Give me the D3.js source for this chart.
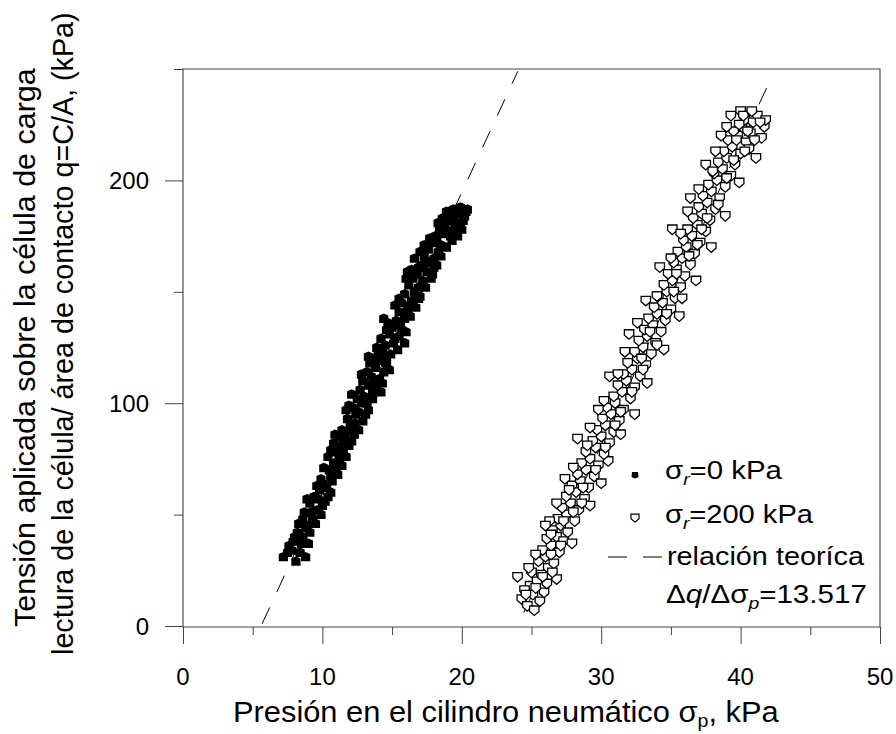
<!DOCTYPE html>
<html>
<head>
<meta charset="utf-8">
<script src="https://cdn.jsdelivr.net/npm/d3@7"></script>
<style>
  body { margin: 0; background: #fff; }
  text { font-family: Arial, "Liberation Sans", sans-serif; fill: #000; }
</style>
</head>
<body>
<script>
// values: [presión σp (kPa), tensión q (kPa)]
const serie0 = [
  [7.2,31],[7.6,36],[8.1,29],[8.4,33],[7.9,38],[8.6,40],[8.2,42],[9.0,37],[8.8,31],
  [8.3,46],[8.9,45],[9.3,48],[8.7,51],[9.6,52],[9.1,55],[9.9,50],[9.4,58],[10.2,56],[9.8,61],[8.9,57],
  [10.3,62],[10.7,65],[9.9,66],[10.5,70],[11.1,68],[10.8,73],[11.4,72],[10.4,76],[11.0,78],[11.7,76],[11.3,81],[10.8,82],
  [11.6,84],[12.1,83],[11.4,88],[12.0,90],[12.6,88],[11.8,93],[12.4,95],[12.9,92],[12.2,98],[12.8,100],[13.3,97],[11.9,99],
  [13.0,103],[13.6,102],[12.7,106],[13.3,108],[13.9,107],[13.5,112],[14.1,111],[13.2,114],[13.8,116],[14.4,114],[14.0,119],[14.6,118],[13.6,120],
  [14.3,123],[14.9,122],[14.5,126],[15.1,127],[14.2,129],[14.8,131],[15.5,130],[15.0,134],[15.7,133],[15.3,137],[14.7,136],[15.9,138],[15.5,141],
  [16.1,142],[15.7,145],[16.4,146],[15.9,149],[16.6,150],[16.2,153],[16.9,152],[16.5,156],[17.2,155],[16.8,158],[17.5,159],[16.4,160],
  [17.1,162],[17.7,163],[17.3,166],[18.0,165],[17.6,169],[18.3,168],[17.9,172],[18.5,171],[18.1,175],[17.7,174],
  [18.7,176],[18.4,178],[19.1,177],[18.8,180],[19.5,179],[19.2,182],[19.9,181],[19.0,184],[19.6,185],[20.2,184],[18.9,186],[19.4,187],[20.4,187],[20.0,178],[19.7,175],[20.1,182],
  [7.8,34],[8.5,37],[9.1,42],[8.6,48],[9.5,46],[10.0,54],[9.6,63],[10.6,60],[10.1,71],[11.2,75],[10.9,86],[11.5,79],[12.3,86],[11.7,97],
  [12.5,102],[13.1,95],[12.9,110],[13.4,118],[14.2,105],[14.8,115],[13.9,125],[14.6,133],[15.4,124],[15.2,144],[15.9,127],[16.3,139],
  [16.0,156],[16.7,143],[17.0,148],[16.6,165],[17.4,152],[17.3,171],[17.9,158],[18.2,162],[18.6,183],[18.3,181],[19.3,173],[19.8,186],
  [7.5,33],[8.0,40],[8.8,44],[9.2,51],[9.7,57],[10.4,58],[10.0,64],[10.6,67],[11.0,71],[10.6,79],[11.3,77],[11.9,81],[11.2,85],[12.0,87],
  [12.3,91],[12.6,96],[12.1,104],[13.2,100],[13.6,105],[12.8,113],[13.7,110],[14.3,109],[13.3,121],[14.0,122],[14.6,121],[15.2,129],
  [14.4,138],[15.6,135],[16.0,132],[15.5,147],[16.3,144],[16.9,147],[16.1,159],[16.9,161],[17.8,156],[17.4,164],[18.0,161],[17.0,168],
  [18.5,166],[18.9,170],[18.2,173],[19.2,175],[19.6,177],[18.6,179],[19.4,183],[20.3,186],[19.9,188],[19.1,186]
];

const serie200 = [
  [24.3,12],[24.7,9],[25.1,14],[25.6,11],[24.9,18],[25.4,20],[24.5,16],[25.9,15],[26.1,19],[25.2,7],
  [25.0,24],[25.7,23],[26.2,26],[25.5,29],[26.0,31],[26.6,28],[25.8,34],[26.4,36],[27.0,33],[26.1,39],[26.8,40],[27.3,38],
  [26.5,43],[27.1,45],[27.6,42],[26.9,48],[27.5,50],[28.1,47],[27.2,53],[27.8,55],[28.4,52],[27.5,58],[28.2,60],[28.8,57],
  [27.9,63],[28.5,65],[29.1,62],[28.3,68],[28.9,70],[29.5,67],[28.6,73],[29.2,75],[29.8,72],[30.5,74],[28.9,78],[29.6,80],[30.2,77],
  [29.4,83],[30.0,85],[30.6,82],[29.7,88],[30.3,90],[30.9,87],[30.1,93],[30.7,95],[31.3,92],[30.4,98],[31.0,100],[31.6,97],
  [30.9,103],[31.5,105],[32.1,102],[31.2,108],[31.8,110],[32.4,107],[31.6,113],[32.2,115],[32.8,112],[31.9,118],[32.6,120],[33.2,117],
  [32.4,123],[33.0,125],[33.6,122],[32.7,128],[33.3,130],[33.9,127],[33.1,133],[33.7,135],[34.3,132],[33.4,138],[34.0,140],[34.6,137],
  [33.8,143],[34.4,145],[35.0,142],[34.1,148],[34.7,150],[35.3,147],[34.5,153],[35.1,155],[35.7,152],[34.8,158],[35.4,160],[36.0,157],
  [35.2,163],[35.8,165],[36.4,162],[35.5,168],[36.1,170],[36.7,167],[35.9,173],[36.5,175],[37.1,172],[36.2,178],[36.9,180],[37.5,177],
  [36.6,183],[37.2,185],[37.8,182],[37.0,188],[37.6,190],[38.2,187],[37.3,193],[37.9,195],[38.5,192],[37.7,198],[38.3,200],[38.9,197],
  [38.1,203],[38.7,205],[39.3,202],[38.4,208],[39.0,210],[39.6,207],[38.8,213],[39.4,215],[40.0,212],[39.1,218],[39.8,220],[40.4,217],
  [39.5,222],[40.1,224],[40.7,221],[40.3,227],[40.9,226],[41.2,229],[41.7,224],[41.5,219],[40.6,214],[39.9,225],
  [24.0,22],[26.8,21],[27.9,37],[26.3,47],[29.2,54],[27.4,66],[30.0,64],[28.3,84],[31.4,86],[29.8,97],[32.4,95],[30.6,112],
  [33.3,109],[32.0,131],[34.5,124],[33.2,146],[35.6,139],[34.2,161],[36.8,155],[35.1,178],[37.9,170],[36.4,192],[38.9,184],
  [37.5,207],[39.9,199],[38.6,220],[41.1,210],[40.0,231],[41.8,227],[39.3,229],
  [24.6,14],[25.3,17],[25.8,22],[24.8,26],[25.3,32],[26.4,32],[26.5,24],[27.1,36],[26.4,41],[26.0,45],[27.3,47],[28.0,51],
  [26.8,55],[28.6,55],[27.7,61],[28.7,62],[28.0,71],[29.6,70],[29.0,81],[30.3,80],[29.2,89],[31.0,90],[30.2,101],[31.4,96],
  [31.2,113],[32.2,105],[31.7,123],[33.0,115],[32.9,120],[33.5,132],[34.0,126],[32.6,136],[34.0,148],[35.2,150],[34.7,140],
  [35.4,158],[35.8,147],[35.0,165],[36.3,166],[36.9,171],[35.7,176],[37.2,178],[37.6,183],[36.2,186],[37.0,196],[38.4,189],
  [38.0,204],[39.0,201],[38.2,213],[39.5,209],[39.7,218],[40.3,213],[40.5,222],[41.0,218],[40.2,229],[40.8,231],[41.4,226],[39.0,224]
];

// relación teórica: Δq/Δσp = 13.517, one line per series (σp at q = 0, q range drawn)
const pendiente = 13.517;
const teorica = [
  {p0: 5.6, q: [1, 249]},
  {p0: 24.0, q: [6, 245]}
];

const xMajor = [0, 10, 20, 30, 40, 50];
const xMinor = [5, 15, 25, 35, 45];
const yMajor = [0, 100, 200];
const yMinor = [50, 150, 250];

const W = 896, H = 734;
const svg = d3.select("body").append("svg")
  .attr("width", W).attr("height", H);

const xScale = d3.scaleLinear().domain([0, 50]).range([183, 880]);
const yScale = d3.scaleLinear().domain([0, 250]).range([626, 69]);

// stretch a text horizontally so it fills the wanted width
function fitWidth(sel, w, x, y, rot) {
  const bw = sel.node().getComputedTextLength();
  const k = w / bw;
  sel.attr("transform", `translate(${x},${y})` + (rot ? ` rotate(${rot})` : "") + ` scale(${k},1)`);
}

// axes
const axisColor = "#444";
const gx = svg.append("g").attr("transform", `translate(0,${yScale(0) + 1})`);
gx.call(d3.axisBottom(xScale).tickValues(xMajor).tickSize(17).tickFormat(""));
gx.call(g => g.append("g").call(d3.axisBottom(xScale).tickValues(xMinor).tickSize(8).tickFormat("")));
gx.selectAll(".domain").remove();
gx.selectAll("line").attr("stroke", axisColor);

const gy = svg.append("g").attr("transform", `translate(${xScale(0)},0)`);
gy.call(d3.axisLeft(yScale).tickValues(yMajor).tickSize(18).tickFormat(""));
gy.call(g => g.append("g").call(d3.axisLeft(yScale).tickValues(yMinor).tickSize(9).tickFormat("")));
gy.selectAll(".domain").remove();
gy.selectAll("line").attr("stroke", axisColor);

// frame
svg.append("path")
  .attr("d", `M${xScale(0)},${yScale(0) + 1}H${xScale(50)}V${yScale(250)}H${xScale(0)}Z`)
  .attr("fill", "none").attr("stroke", axisColor).attr("stroke-width", 1.1);

// tick labels
svg.append("g").selectAll("text").data(xMajor).join("text")
  .attr("x", d => xScale(d)).attr("y", 685)
  .attr("text-anchor", "middle").attr("font-size", 24)
  .text(d => d);
svg.append("g").selectAll("text").data(yMajor).join("text")
  .attr("x", 149).attr("y", d => yScale(d) + 8.5)
  .attr("text-anchor", "end").attr("font-size", 24)
  .text(d => d);

// axis titles
const xt = svg.append("text").attr("font-size", 30);
xt.append("tspan").text("Presión en el cilindro neumático  σ");
xt.append("tspan").attr("font-size", 19).attr("dy", 5).text("p");
xt.append("tspan").attr("dy", -5).text(", kPa");
fitWidth(xt, 546, 233, 722);

const yt1 = svg.append("text").attr("font-size", 30)
  .text("Tensión aplicada sobre la célula de carga");
fitWidth(yt1, 559, 35, 627, -90);
const yt2 = svg.append("text").attr("font-size", 30)
  .text("lectura de la célula/ área de contacto q=C/A, (kPa)");
fitWidth(yt2, 643, 73, 655, -90);

// theoretical lines
const line = d3.line().x(d => xScale(d[0])).y(d => yScale(d[1]));
svg.append("g").selectAll("path").data(teorica).join("path")
  .attr("d", t => line(t.q.map(q => [t.p0 + q / pendiente, q])))
  .attr("fill", "none").attr("stroke", "#000").attr("stroke-width", 1)
  .attr("stroke-dasharray", "18,17");

// markers
const filledShape = "M-4.6,-3L0,-5L4.6,-3L4.6,4.4L-4.6,4.4Z";
const openShape = "M-4.7,-4.4L4.7,-4.4L4.7,1L0,5.1L-4.7,1Z";

svg.append("g").selectAll("path").data(serie200).join("path")
  .attr("transform", d => `translate(${xScale(d[0])},${yScale(d[1])})`)
  .attr("d", openShape)
  .attr("fill", "#fff").attr("stroke", "#000").attr("stroke-width", 1.3);

svg.append("g").selectAll("path").data(serie0).join("path")
  .attr("transform", d => `translate(${xScale(d[0])},${yScale(d[1])})`)
  .attr("d", filledShape)
  .attr("fill", "#000");

// legend
const lg = svg.append("g");
lg.append("path").attr("transform", "translate(635,475)")
  .attr("d", "M-3,-3L3,-3L3.5,2L0,3.5L-3.5,2Z").attr("fill", "#000");
lg.append("path").attr("transform", "translate(635,518)")
  .attr("d", "M-4,-3.8L4,-3.8L4,0.8L0,4.3L-4,0.8Z").attr("fill", "#fff").attr("stroke", "#000").attr("stroke-width", 1.2);
lg.append("line").attr("x1", 608).attr("x2", 663).attr("y1", 557).attr("y2", 557)
  .attr("stroke", "#000").attr("stroke-width", 1).attr("stroke-dasharray", "19,16");

function sigmaR(txt) {
  const t = lg.append("text").attr("font-size", 26);
  t.append("tspan").text("σ");
  t.append("tspan").attr("font-size", 17).attr("font-style", "italic").attr("dy", 6).text("r");
  t.append("tspan").attr("dy", -6).text(txt);
  return t;
}
fitWidth(sigmaR("=0 kPa"), 117, 665, 479);
fitWidth(sigmaR("=200 kPa"), 148, 665, 523);
fitWidth(lg.append("text").attr("font-size", 26).text("relación teoríca"), 197, 667, 565);

const dq = lg.append("text").attr("font-size", 26);
dq.append("tspan").text("Δ");
dq.append("tspan").attr("font-style", "italic").text("q");
dq.append("tspan").text("/Δσ");
dq.append("tspan").attr("font-size", 17).attr("font-style", "italic").attr("dy", 6).text("p");
dq.append("tspan").attr("dy", -6).text("=13.517");
fitWidth(dq, 201, 666, 603);
</script>
</body>
</html>
